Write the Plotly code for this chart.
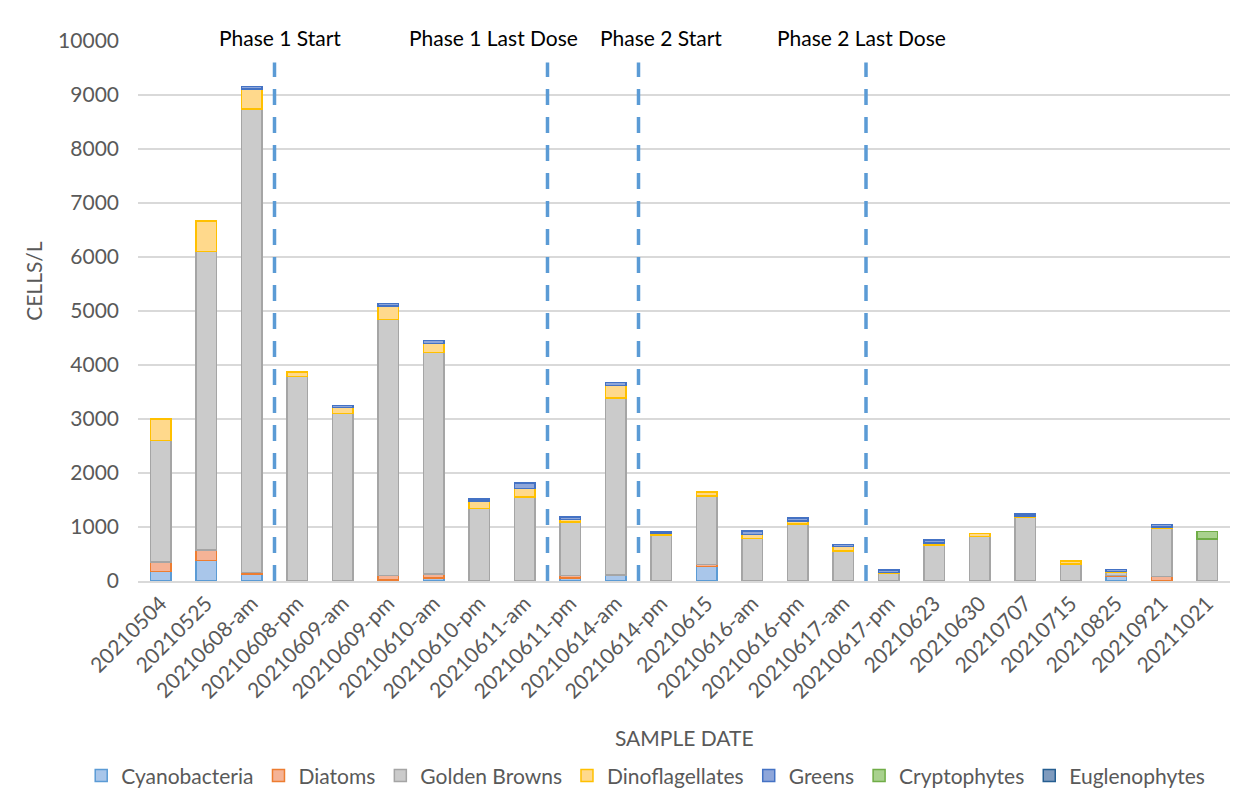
import plotly.graph_objects as go

# Sample dates (category axis)
dates = ["20210504", "20210525", "20210608-am", "20210608-pm", "20210609-am",
         "20210609-pm", "20210610-am", "20210610-pm", "20210611-am", "20210611-pm",
         "20210614-am", "20210614-pm", "20210615", "20210616-am", "20210616-pm",
         "20210617-am", "20210617-pm", "20210623", "20210630", "20210707",
         "20210715", "20210825", "20210921", "20211021"]

# Cell counts (cells/L) per algal group
cyanobacteria = [180, 380, 130, 0, 0, 20, 55, 0, 0, 60, 110, 0, 265, 0, 0, 0, 0, 0, 0, 0, 0, 80, 0, 0]
diatoms = [170, 190, 25, 0, 0, 80, 75, 0, 0, 40, 0, 0, 40, 0, 0, 0, 0, 0, 0, 0, 0, 20, 80, 0]
golden_browns = [2250, 5530, 8590, 3790, 3100, 4740, 4100, 1340, 1560, 990, 3280, 850,
                 1270, 790, 1055, 560, 145, 670, 820, 1180, 315, 55, 895, 770]
dinoflagellates = [400, 570, 370, 80, 110, 250, 165, 140, 155, 45, 230, 30,
                   70, 75, 55, 75, 10, 30, 60, 25, 55, 17, 25, 0]
greens = [0, 0, 40, 0, 40, 45, 55, 37, 100, 50, 55, 30, 0, 65, 55, 45, 45, 55, 0, 40, 0, 44, 50, 10]
cryptophytes = [0] * 23 + [135]
euglenophytes = [0] * 24

# Treatment phase markers (positions between sample dates) and their labels
phase_lines = [2.5, 8.5, 10.5, 15.5]
phase_labels = ["Phase 1 Start", "Phase 1 Last Dose", "Phase 2 Start", "Phase 2 Last Dose"]
phase_label_x = [2.62, 7.32, 10.99, 15.4]

series = [
    ("Cyanobacteria", cyanobacteria, "#A9C6EA", "#5B9BD5"),
    ("Diatoms", diatoms, "#F5B396", "#ED7D31"),
    ("Golden Browns", golden_browns, "#CBCBCB", "#A5A5A5"),
    ("Dinoflagellates", dinoflagellates, "#FFD98C", "#FFC000"),
    ("Greens", greens, "#8EA6DA", "#4472C4"),
    ("Cryptophytes", cryptophytes, "#A9D18E", "#70AD47"),
    ("Euglenophytes", euglenophytes, "#7F9BBE", "#255E91"),
]

FONT = "Lato"
GREY = "#595959"
FS = 21

fig = go.Figure()
for name, vals, fill, edge in series:
    fig.add_trace(go.Bar(
        x=dates, y=[v if v else None for v in vals], name=name,
        marker=dict(color=fill, line=dict(color=edge, width=1.5)),
    ))

shapes = []
for xp in phase_lines:
    shapes.append(dict(type="line", xref="x", yref="y", x0=xp, x1=xp, y0=0, y1=9600,
                       line=dict(color="#5B9BD5", width=3.5, dash="16px,12px")))

annotations = []
for lab, xp in zip(phase_labels, phase_label_x):
    annotations.append(dict(text=lab, x=xp, xref="x", y=1.0074, yref="paper",
                            xanchor="center", yanchor="middle", showarrow=False,
                            font=dict(family=FONT, size=FS, color="#000000")))
annotations.append(dict(text="SAMPLE DATE", x=0.5, xref="paper", y=-0.289, yref="paper",
                        xanchor="center", yanchor="middle", showarrow=False,
                        font=dict(family=FONT, size=FS, color=GREY)))
annotations.append(dict(text="CELLS/L", x=-0.0952, xref="paper", y=0.556, yref="paper",
                        xanchor="center", yanchor="middle", showarrow=False, textangle=-90,
                        font=dict(family=FONT, size=FS, color=GREY)))

fig.update_layout(
    width=1253, height=792,
    margin=dict(l=138, r=23, t=41, b=211, autoexpand=False),
    barmode="stack", bargap=0.56,
    plot_bgcolor="white", paper_bgcolor="white",
    font=dict(family=FONT, size=FS, color=GREY),
    shapes=shapes, annotations=annotations,
    legend=dict(orientation="h", x=-0.052, xanchor="left", y=-0.361, yanchor="middle",
                font=dict(family=FONT, size=21, color=GREY), traceorder="normal",
                itemwidth=30),
    xaxis=dict(type="category", tickangle=-45, showgrid=False, showline=True,
               linecolor="#D9D9D9", linewidth=2, ticks="", automargin=False,
               tickfont=dict(family=FONT, size=FS, color=GREY)),
    yaxis=dict(range=[0, 10000], dtick=1000, tickformat="d", showgrid=True,
               gridcolor="#D9D9D9", gridwidth=2, zeroline=False, showline=False,
               ticks="", ticklabelstandoff=18, automargin=False,
               tickfont=dict(family=FONT, size=FS, color=GREY)),
)

fig.write_html("out.html")
